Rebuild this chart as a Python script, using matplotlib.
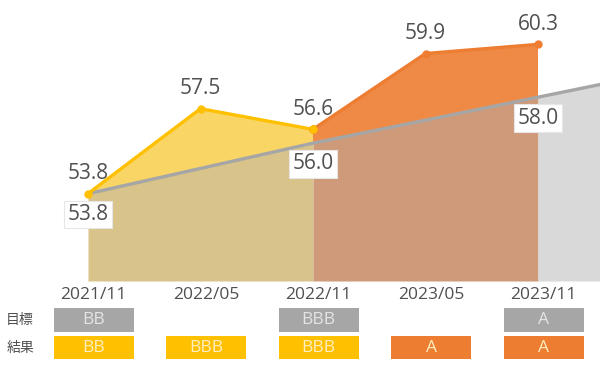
import matplotlib
matplotlib.use("Agg")
import matplotlib.pyplot as plt
from matplotlib.patches import Rectangle
import numpy as np

plt.rcParams['font.family'] = ['Open Sans', 'Noto Sans CJK JP', 'DejaVu Sans']

# ---- data ----
periods = ["2021/11", "2022/05", "2022/11", "2023/05", "2023/11"]
results = [53.8, 57.5, 56.6, 59.9, 60.3]
target_idx = [0, 2, 4, 5]            # 5 = next period, beyond the right edge
targets = [53.8, 56.0, 58.0, 59.0]
target_labels = [53.8, 56.0, 58.0]
target_ratings = ["BB", "", "BBB", "", "A"]
result_ratings = ["BB", "BBB", "BBB", "A", "A"]
row_labels = ["目標", "結果"]

# ---- colors ----
c_yellow = "#ffc000"
c_orange = "#ed7d31"
c_gray = "#a6a6a6"
c_tan = "#d8c38b"
c_lyellow = "#f9d565"
c_forange = "#ef8a46"
c_brown = "#cf9a79"
c_lgray = "#d9d9d9"
c_text = "#505050"

W, H = 600, 365
fig = plt.figure(figsize=(6, 3.65), dpi=100)
base_px = 281
ax = fig.add_axes([0, 1 - base_px / H, 1, base_px / H])
xl = (-88 / 112.5, (600 - 88) / 112.5)
ax.set_xlim(*xl)
ax.set_ylim(50, 62.23)
ax.axis("off")

x = list(range(len(periods)))

def tgt_at(i):
    return float(np.interp(i, target_idx, targets))

# under-target fills
ax.fill_between([0, 1, 2], 50, [tgt_at(i) for i in (0, 1, 2)], color=c_tan, lw=0, zorder=1)
ax.fill_between([2, 3, 4], 50, [tgt_at(i) for i in (2, 3, 4)], color=c_brown, lw=0, zorder=1)
ax.fill_between([4, 5], 50, [tgt_at(4), tgt_at(5)], color=c_lgray, lw=0, zorder=1)
# between target and result
xs = [0, 1, 2, 2, 1, 0]
ys = results[0:3] + [tgt_at(2), tgt_at(1), tgt_at(0)]
ax.fill(xs, ys, color=c_lyellow, lw=0, zorder=1)
xs = [2, 3, 4, 4, 3, 2]
ys = results[2:5] + [tgt_at(4), tgt_at(3), tgt_at(2)]
ax.fill(xs, ys, color=c_forange, lw=0, zorder=1)

# target line
ax.plot(target_idx, targets, color=c_gray, lw=2.4, zorder=3, solid_capstyle="round")
# result lines
ax.plot(x[0:3], results[0:3], color=c_yellow, lw=2.4, zorder=4, marker="o", ms=5,
        solid_joinstyle="round")
ax.plot(x[2:5], results[2:5], color=c_orange, lw=2.4, zorder=4, marker="o", ms=5,
        solid_joinstyle="round")
ax.plot([2], [results[2]], color=c_yellow, marker="o", ms=5, zorder=5)

for i, v in zip(x, results):
    ax.annotate(f"{v:.1f}", (i, v), xytext=(0, 14.5), textcoords="offset points",
                ha="center", va="center", fontsize=15, color=c_text, zorder=6,
                fontweight="medium")

for i, v in zip(target_idx, target_labels):
    ax.annotate(f"{v:.1f}", (i, v), xytext=(0, -15), textcoords="offset points",
                ha="center", va="center", fontsize=15, color=c_text, zorder=6,
                fontweight="medium",
                bbox=dict(boxstyle="square,pad=0.15", fc="white", ec="#e6e6e6", lw=0.8))

# ---- bottom table ----
ax2 = fig.add_axes([0, 0, 1, (H - base_px) / H])
ax2.set_xlim(*xl)
ax2.set_ylim(H - base_px, 0)
ax2.axis("off")
off = 0.05
bw = 80 / 112.5
for i, p in enumerate(periods):
    cx = i + off
    ax2.text(cx, 14, p, ha="center", va="center", fontsize=12.5, color=c_text,
             fontweight="medium")
    if target_ratings[i]:
        ax2.add_patch(Rectangle((cx - bw / 2, 27), bw, 24, fc=c_gray, ec="none"))
        ax2.text(cx, 39.5, target_ratings[i], ha="center", va="center", fontsize=12.5,
                 color="#e4e4e4")
    col = c_yellow if i < 3 else c_orange
    ax2.add_patch(Rectangle((cx - bw / 2, 55), bw, 23, fc=col, ec="none"))
    ax2.text(cx, 67, result_ratings[i], ha="center", va="center", fontsize=12.5,
             color="#ffefc0")

ax2.text(-0.604, 39, row_labels[0], ha="center", va="center", fontsize=10,
         color=c_text, family=['Noto Sans CJK JP', 'DejaVu Sans'])
ax2.text(-0.604, 67, row_labels[1], ha="center", va="center", fontsize=10,
         color=c_text, family=['Noto Sans CJK JP', 'DejaVu Sans'])

fig.savefig("out.png", dpi=100)
